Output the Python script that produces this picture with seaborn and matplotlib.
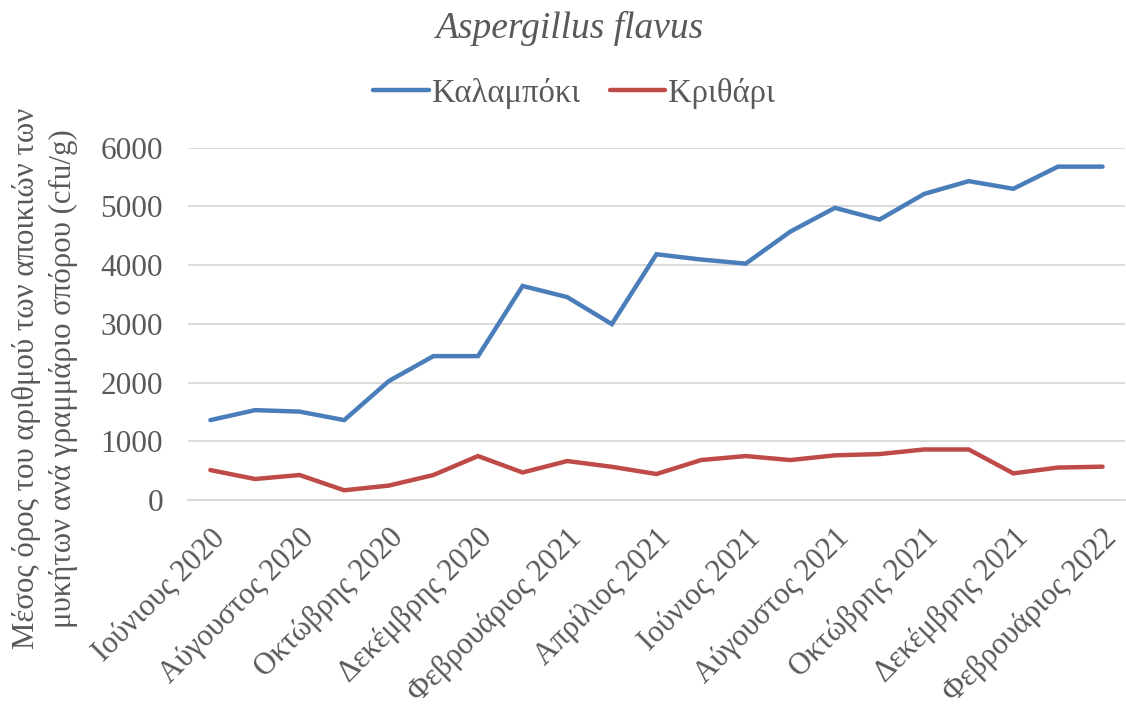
import matplotlib
matplotlib.use("Agg")
import matplotlib.pyplot as plt
import seaborn as sns
import pandas as pd

# Monthly sampling periods (June 2020 - February 2022)
months = [
    "Ιούνιους 2020", "Ιούλιος 2020", "Αύγουστος 2020", "Σεπτέμβρης 2020",
    "Οκτώβρης 2020", "Νοέμβρης 2020", "Δεκέμβρης 2020", "Ιανουάριος 2021",
    "Φεβρουάριος 2021", "Μάρτιος 2021", "Απρίλιος 2021", "Μάιος 2021",
    "Ιούνιος 2021", "Ιούλιος 2021", "Αύγουστος 2021", "Σεπτέμβρης 2021",
    "Οκτώβρης 2021", "Νοέμβρης 2021", "Δεκέμβρης 2021", "Ιανουάριος 2022",
    "Φεβρουάριος 2022",
]

# Mean colony counts (cfu/g)
corn = [1360, 1530, 1505, 1360, 2025, 2450, 2450, 3645, 3455, 2995, 4185,
        4095, 4025, 4570, 4975, 4775, 5212, 5430, 5300, 5677, 5677]
barley = [510, 357, 425, 165, 245, 425, 748, 468, 663, 565, 442,
          680, 748, 680, 760, 782, 860, 860, 453, 552, 567]

series_names = ["Καλαμπόκι", "Κριθάρι"]
palette = {"Καλαμπόκι": "#4A7EBB", "Κριθάρι": "#BE4B48"}

df = pd.DataFrame({
    "idx": list(range(len(months))) * 2,
    "month": months * 2,
    "value": corn + barley,
    "crop": [series_names[0]] * len(corn) + [series_names[1]] * len(barley),
})

sns.set_theme(style="white")
plt.rcParams["font.family"] = ["Liberation Serif", "DejaVu Serif"]
text_color = "#595959"

fig = plt.figure(figsize=(11.26, 7.11), dpi=100)
ax = fig.add_axes([0.1670, 0.2968, 0.8320, 0.4955])

sns.lineplot(data=df, x="idx", y="value", hue="crop", palette=palette,
             linewidth=3.2, ax=ax, legend=True, sort=False)
for ln in ax.lines:
    ln.set_clip_on(False)
    ln.set_solid_capstyle("round")
    ln.set_solid_joinstyle("miter")

ax.set_xlim(-0.5, len(months) - 0.5)
ax.set_ylim(0, 6000)
ax.set_yticks(range(0, 6001, 1000))
ax.set_yticklabels([str(v) for v in range(0, 6001, 1000)])
ax.yaxis.grid(True, color="#D9D9D9", linewidth=1.3)
ax.xaxis.grid(False)
for s in ["top", "right", "left"]:
    ax.spines[s].set_visible(False)
ax.spines["bottom"].set_color("#D9D9D9")
ax.spines["bottom"].set_linewidth(1.3)

tick_pos = list(range(0, len(months), 2))
ax.set_xticks(tick_pos)
ax.set_xticklabels([months[i] for i in tick_pos], rotation=45, ha="right",
                   va="top", rotation_mode="anchor")
ax.tick_params(axis="x", length=0, pad=17, labelsize=22, labelcolor=text_color)
ax.tick_params(axis="y", length=0, pad=18, labelsize=22.5, labelcolor=text_color)

ax.set_xlabel("")
ax.set_ylabel("")

fig.text(0.040, 0.468,
         "Μέσος όρος του αριθμού των αποικιών των\nμυκήτων ανά γραμμάριο σπόρου (cfu/g)",
         rotation=90, ha="center", va="center", fontsize=22.2,
         color=text_color, linespacing=1.35)

fig.text(0.5053, 0.960, "Aspergillus flavus", ha="center", va="center",
         fontsize=27, style="italic", color=text_color)

handles, labels = ax.get_legend_handles_labels()
ax.legend(handles, labels, loc="center", bbox_to_anchor=(0.510, 0.869),
          bbox_transform=fig.transFigure, ncol=2, frameon=False,
          fontsize=23.5, labelcolor=text_color, handlelength=1.7,
          handletextpad=0.1, columnspacing=0.9, borderpad=0.2)

fig.savefig("out.png", dpi=100)
